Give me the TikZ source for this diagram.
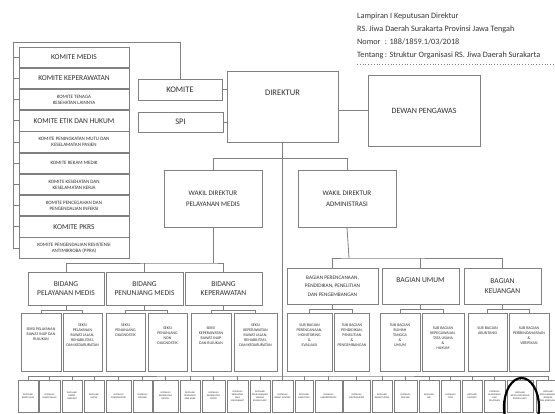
\documentclass[tikz,border=0pt]{standalone}
\usepackage{fontspec}
\setmainfont{Carlito}
\definecolor{linegray}{HTML}{808080}
\definecolor{textgray}{HTML}{2E2E2E}
\tikzset{
  unit/.style={draw=linegray, line width=0.9pt, text=textgray, align=center, inner sep=1pt},
  link/.style={draw=linegray, line width=0.8pt},
  bigtext/.style={font=\fontsize{8.5}{10}\selectfont},
  midtext/.style={font=\fontsize{7.5}{9.5}\selectfont},
  smalltext/.style={font=\fontsize{5}{6}\selectfont},
  microtext/.style={font=\fontsize{2.4}{3}\selectfont},
  toptext/.style={label={[anchor=north, align=center, text=textgray, yshift=-11pt, inner sep=0pt, font=\fontsize{4}{5}\selectfont]north:#1}},
  ring/.style={draw=black, line width=2.2pt},
}
\begin{document}
\begin{tikzpicture}[x=1pt, y=-1pt]
  \useasboundingbox (0,0) rectangle (555,414);
  % header
  \node [anchor=north west, inner sep=0pt, text=black!80, font=\fontsize{8.2}{13}\selectfont] (header) at (357,9) {\begin{tabular}{@{}l@{\,}l@{}}
    \multicolumn{2}{@{}l@{}}{Lampiran I Keputusan Direktur}\\
    \multicolumn{2}{@{}l@{}}{RS. Jiwa Daerah Surakarta Provinsi Jawa Tengah}\\
    Nomor & : 188/1859.1/03/2018\\
    Tentang & : Struktur Organisasi RS. Jiwa Daerah Surakarta
  \end{tabular}};
  \draw [linegray, dotted, line width=0.8pt] (357,64) -- (555,64);

  % komite column
  \node [unit, midtext, minimum width=110pt, minimum height=20.4pt] (k1) at (74,57.2) {KOMITE MEDIS};
  \node [unit, midtext, minimum width=110pt, minimum height=20.4pt] (k2) at (74,78.4) {KOMITE KEPERAWATAN};
  \node [unit, smalltext, minimum width=110pt, minimum height=20.4pt] (k3) at (74,99.6) {KOMITE TENAGA\\KESEHATAN LAINNYA};
  \node [unit, midtext, minimum width=110pt, minimum height=20.4pt] (k4) at (74,120.8) {KOMITE ETIK DAN HUKUM};
  \node [unit, smalltext, minimum width=110pt, minimum height=20.4pt] (k5) at (74,142.0) {KOMITE PENINGKATAN MUTU DAN\\KESELAMATAN PASIEN};
  \node [unit, smalltext, minimum width=110pt, minimum height=20.4pt] (k6) at (74,163.2) {KOMITE REKAM MEDIK};
  \node [unit, smalltext, minimum width=110pt, minimum height=20.4pt] (k7) at (74,184.4) {KOMITE KESEHATAN DAN\\KESELAMATAN KERJA};
  \node [unit, smalltext, minimum width=110pt, minimum height=20.4pt] (k8) at (74,205.6) {KOMITE PENCEGAHAN DAN\\PENGENDALIAN INFEKSI};
  \node [unit, midtext, minimum width=110pt, minimum height=20.4pt] (k9) at (74,226.8) {KOMITE PKRS};
  \node [unit, smalltext, minimum width=110pt, minimum height=20.4pt] (k10) at (74,248.0) {KOMITE PENGENDALIAN RESISTENSI\\ANTIMIKROBA (PPRA)};

  % top level
  \node [unit, bigtext, minimum width=84pt, minimum height=21pt] (komite) at (180,89.5) {KOMITE};
  \node [unit, bigtext, minimum width=85pt, minimum height=20pt] (spi) at (180.5,122) {SPI};
  \node [unit, minimum width=111pt, minimum height=71pt, label={[anchor=north, inner sep=0pt, text=textgray, font=\fontsize{8.5}{10}\selectfont, yshift=-19pt]north:DIREKTUR}] (direktur) at (282.5,106.5) {};
  \node [unit, font=\fontsize{8}{10}\selectfont, minimum width=112pt, minimum height=71pt] (dewan) at (424,110.5) {DEWAN PENGAWAS};

  \coordinate (kbus) at (13,42);
  \draw [link] (komite.north) |- (kbus) |- (k10.west);
  \foreach \k in {1,...,9} \draw [link] (k\k.west) -- (k\k.west -| kbus);
  \draw [link] (komite.east) -- (komite.east -| direktur.west);
  \draw [link] (spi.east) -- (spi.east -| direktur.west);
  \draw [link] (dewan.west) -- (dewan.west -| direktur.east);

  % wakil direktur
  \node [unit, font=\fontsize{7}{11}\selectfont, minimum width=98pt, minimum height=57pt] (wpm) at (213,198.5) {WAKIL DIREKTUR\\PELAYANAN MEDIS};
  \node [unit, font=\fontsize{7}{11}\selectfont, minimum width=98pt, minimum height=57pt] (wadm) at (347,198.5) {WAKIL DIREKTUR\\ADMINISTRASI};
  \draw [link] (wpm.north) -- ++(0,-11) -| (wadm.north);

  % bidang
  \node [unit, midtext, minimum width=76pt, minimum height=33pt] (bpm) at (66,288.5) {BIDANG\\PELAYANAN MEDIS};
  \node [unit, midtext, minimum width=77pt, minimum height=33pt] (bpjm) at (144.5,288.5) {BIDANG\\PENUNJANG MEDIS};
  \node [unit, midtext, minimum width=77pt, minimum height=33pt] (bkep) at (223.5,288.5) {BIDANG\\KEPERAWATAN};
  \coordinate (bidbus) at (213,263);
  \draw [link] (wpm.south) -- (bidbus);
  \draw [link] (bpm.north) |- (bidbus) -| (bkep.north);
  \draw [link] (bpjm.north) -- (bpjm.north |- bidbus);

  % bagian
  \node [unit, font=\fontsize{5.3}{8.5}\selectfont, minimum width=91pt, minimum height=36pt] (bpr) at (332.5,286) {BAGIAN PERENCANAAN,\\PENDIDIKAN, PENELITIAN\\DAN PENGEMBANGAN};
  \node [unit, midtext, minimum width=77pt, minimum height=36pt] (bum) at (420.5,286) {BAGIAN UMUM\\[3pt]};
  \node [unit, midtext, minimum width=77pt, minimum height=36pt] (bkeu) at (502.5,286) {BAGIAN\\KEUANGAN};
  \coordinate (bagbus) at (349,258);
  \draw [link] (wadm.south) -- (bagbus);
  \draw [link] (bpr.north) |- (bagbus) -| (bkeu.north);
  \draw [link] (bum.north) -- (bum.north |- bagbus);

  % seksi
  \node [unit, minimum width=40pt, minimum height=58pt, toptext={\\[2pt]SEKSI PELAYANAN\\RAWAT INAP DAN\\RUJUKAN}] (s1) at (41,342) {};
  \node [unit, minimum width=39pt, minimum height=58pt, toptext={SEKSI\\PELAYANAN\\RAWAT JALAN,\\REHABILITASI,\\DAN KEDARURATAN}] (s2) at (82.5,342) {};
  \node [unit, minimum width=39pt, minimum height=58pt, toptext={SEKSI\\PENUNJANG\\DIAGNOSTIK}] (s3) at (125.5,342) {};
  \node [unit, minimum width=39pt, minimum height=58pt, toptext={\\[1pt]SEKSI\\PENUNJANG\\NON\\DIAGNOSTIK}] (s4) at (167.5,342) {};
  \node [unit, minimum width=40pt, minimum height=58pt, toptext={\\[1pt]SEKSI\\KEPERAWATAN\\RAWAT INAP\\DAN RUJUKAN}] (s5) at (211,342) {};
  \node [unit, minimum width=43pt, minimum height=58pt, toptext={SEKSI\\KEPERAWATAN\\RAWAT JALAN,\\REHABILITASI,\\DAN KEDARURATAN}] (s6) at (255.5,342) {};
  \draw [link] (bpm.south) -- ++(0,5) coordinate (bpmbus);
  \draw [link] (s1.north) |- (bpmbus) -| (s2.north);
  \draw [link] (bpjm.south) -- ++(0,5) coordinate (bpjmbus);
  \draw [link] (s3.north) |- (bpjmbus) -| (s4.north);
  \draw [link] (bkep.south) -- ++(0,5) coordinate (bkepbus);
  \draw [link] (s5.north) |- (bkepbus) -| (s6.north);

  % sub bagian
  \node [unit, minimum width=45pt, minimum height=58pt, toptext={SUB BAGIAN\\PERENCANAAN,\\MONITORING\\\&\\EVALUASI}] (sb1) at (309.5,342) {};
  \node [unit, minimum width=35pt, minimum height=58pt, toptext={SUB BAGIAN\\PENDIDIKAN,\\PENELITIAN\\\&\\PENGEMBANGAN}] (sb2) at (352,342) {};
  \node [unit, minimum width=40pt, minimum height=58pt, toptext={SUB BAGIAN\\RUMAH\\TANGGA\\\&\\UMUM}] (sb3) at (400,342) {};
  \node [unit, minimum width=42pt, minimum height=58pt, toptext={\\[1pt]SUB BAGIAN\\KEPEGAWAIAN,\\TATA USAHA\\\&\\HUKUM}] (sb4) at (443,342) {};
  \node [unit, minimum width=39pt, minimum height=58pt, toptext={\\[1pt]SUB BAGIAN\\AKUNTANSI}] (sb5) at (487.5,342) {};
  \node [unit, minimum width=40pt, minimum height=58pt, toptext={\\[1pt]SUB BAGIAN\\PERBENDAHARAAN\\\&\\VERIFIKASI}] (sb6) at (529,342) {};
  \draw [link] (bpr.south) -- ++(0,5) coordinate (bprbus);
  \draw [link] (sb1.north) |- (bprbus) -| (sb2.north);
  \draw [link] (bum.south) -- ++(0,5) coordinate (bumbus);
  \draw [link] (sb3.north) |- (bumbus) -| (sb4.north);
  \draw [link] (bkeu.south) -- ++(0,5) coordinate (bkeubus);
  \draw [link] (sb5.north) |- (bkeubus) -| (sb6.north);

  % instalasi
  \node [unit, microtext, minimum width=20pt, minimum height=32pt] (i1) at (28,396) {INSTALASI\\RAWAT INAP};
  \node [unit, microtext, minimum width=21pt, minimum height=32pt] (i2) at (49.5,396) {INSTALASI\\RAWAT JALAN};
  \node [unit, microtext, minimum width=20pt, minimum height=32pt] (i3) at (72,396) {INSTALASI\\GAWAT\\DARURAT};
  \node [unit, microtext, minimum width=20pt, minimum height=32pt] (i4) at (94,396) {INSTALASI\\NAPZA};
  \node [unit, microtext, minimum width=25pt, minimum height=32pt] (i5) at (118.5,396) {INSTALASI\\PSIKOGERIATRI};
  \node [unit, microtext, minimum width=19pt, minimum height=32pt] (i6) at (142.5,396) {INSTALASI\\FARMASI};
  \node [unit, microtext, minimum width=25pt, minimum height=32pt] (i7) at (165.5,396) {INSTALASI\\REHABILITASI\\MENTAL};
  \node [unit, microtext, minimum width=20pt, minimum height=32pt] (i8) at (190,396) {INSTALASI\\KESEHATAN\\JIWA ANAK};
  \node [unit, microtext, minimum width=23pt, minimum height=32pt] (i9) at (213.5,396) {INSTALASI\\REHABILITASI\\MEDIK};
  \node [unit, microtext, minimum width=21pt, minimum height=32pt] (i10) at (237.5,396) {INSTALASI\\KESEHATAN\\JIWA\\MASYARAKAT};
  \node [unit, microtext, minimum width=20pt, minimum height=32pt] (i11) at (260,396) {INSTALASI\\PEMELIHARAAN\\SARANA\\RUMAH SAKIT};
  \node [unit, microtext, minimum width=21pt, minimum height=32pt] (i12) at (282.5,396) {INSTALASI\\RAWAT INTENSIF};
  \node [unit, microtext, minimum width=18pt, minimum height=32pt] (i13) at (304,396) {INSTALASI\\RADIOLOGI};
  \node [unit, microtext, minimum width=27pt, minimum height=32pt] (i14) at (328.5,396) {INSTALASI\\LABORATORIUM};
  \node [unit, microtext, minimum width=27pt, minimum height=32pt] (i15) at (356.5,396) {INSTALASI\\ELEKTROMEDIK};
  \node [unit, microtext, minimum width=20pt, minimum height=32pt] (i16) at (382,396) {INSTALASI\\REKAM MEDIK};
  \node [unit, microtext, minimum width=23pt, minimum height=32pt] (i17) at (405.5,396) {INSTALASI\\SANITASI};
  \node [unit, microtext, minimum width=20pt, minimum height=32pt] (i18) at (429,396) {INSTALASI\\GIZI};
  \node [unit, microtext, minimum width=19pt, minimum height=32pt] (i19) at (450.5,396) {INSTALASI\\CSSD};
  \node [unit, microtext, minimum width=20pt, minimum height=32pt] (i20) at (472,396) {INSTALASI\\LAUNDRY};
  \node [unit, microtext, minimum width=21pt, minimum height=32pt] (i21) at (494.5,396) {INSTALASI\\PENDIDIKAN\\DAN\\PELATIHAN};
  \node [unit, microtext, minimum width=26pt, minimum height=32pt] (i22) at (520,396) {INSTALASI\\SISTEM INFORMASI\\RUMAH SAKIT};
  \node [unit, microtext, minimum width=24pt, minimum height=32pt] (i23) at (548,396) {INSTALASI\\PEMULASARAAN\\JENAZAH\\DAN AMBULANS};
  \coordinate (ibus) at (282.5,376);
  \draw [link] (direktur.south) -- (ibus);
  \draw [link] (i1.north) |- (ibus) -| (i23.north);
  \foreach \n in {2,...,22} \draw [link] (i\n.north) -- ++(0,-4);

  % marked unit
  \draw [ring] (521.5,407) ellipse [x radius=17.5pt, y radius=29pt];
\end{tikzpicture}
\end{document}
